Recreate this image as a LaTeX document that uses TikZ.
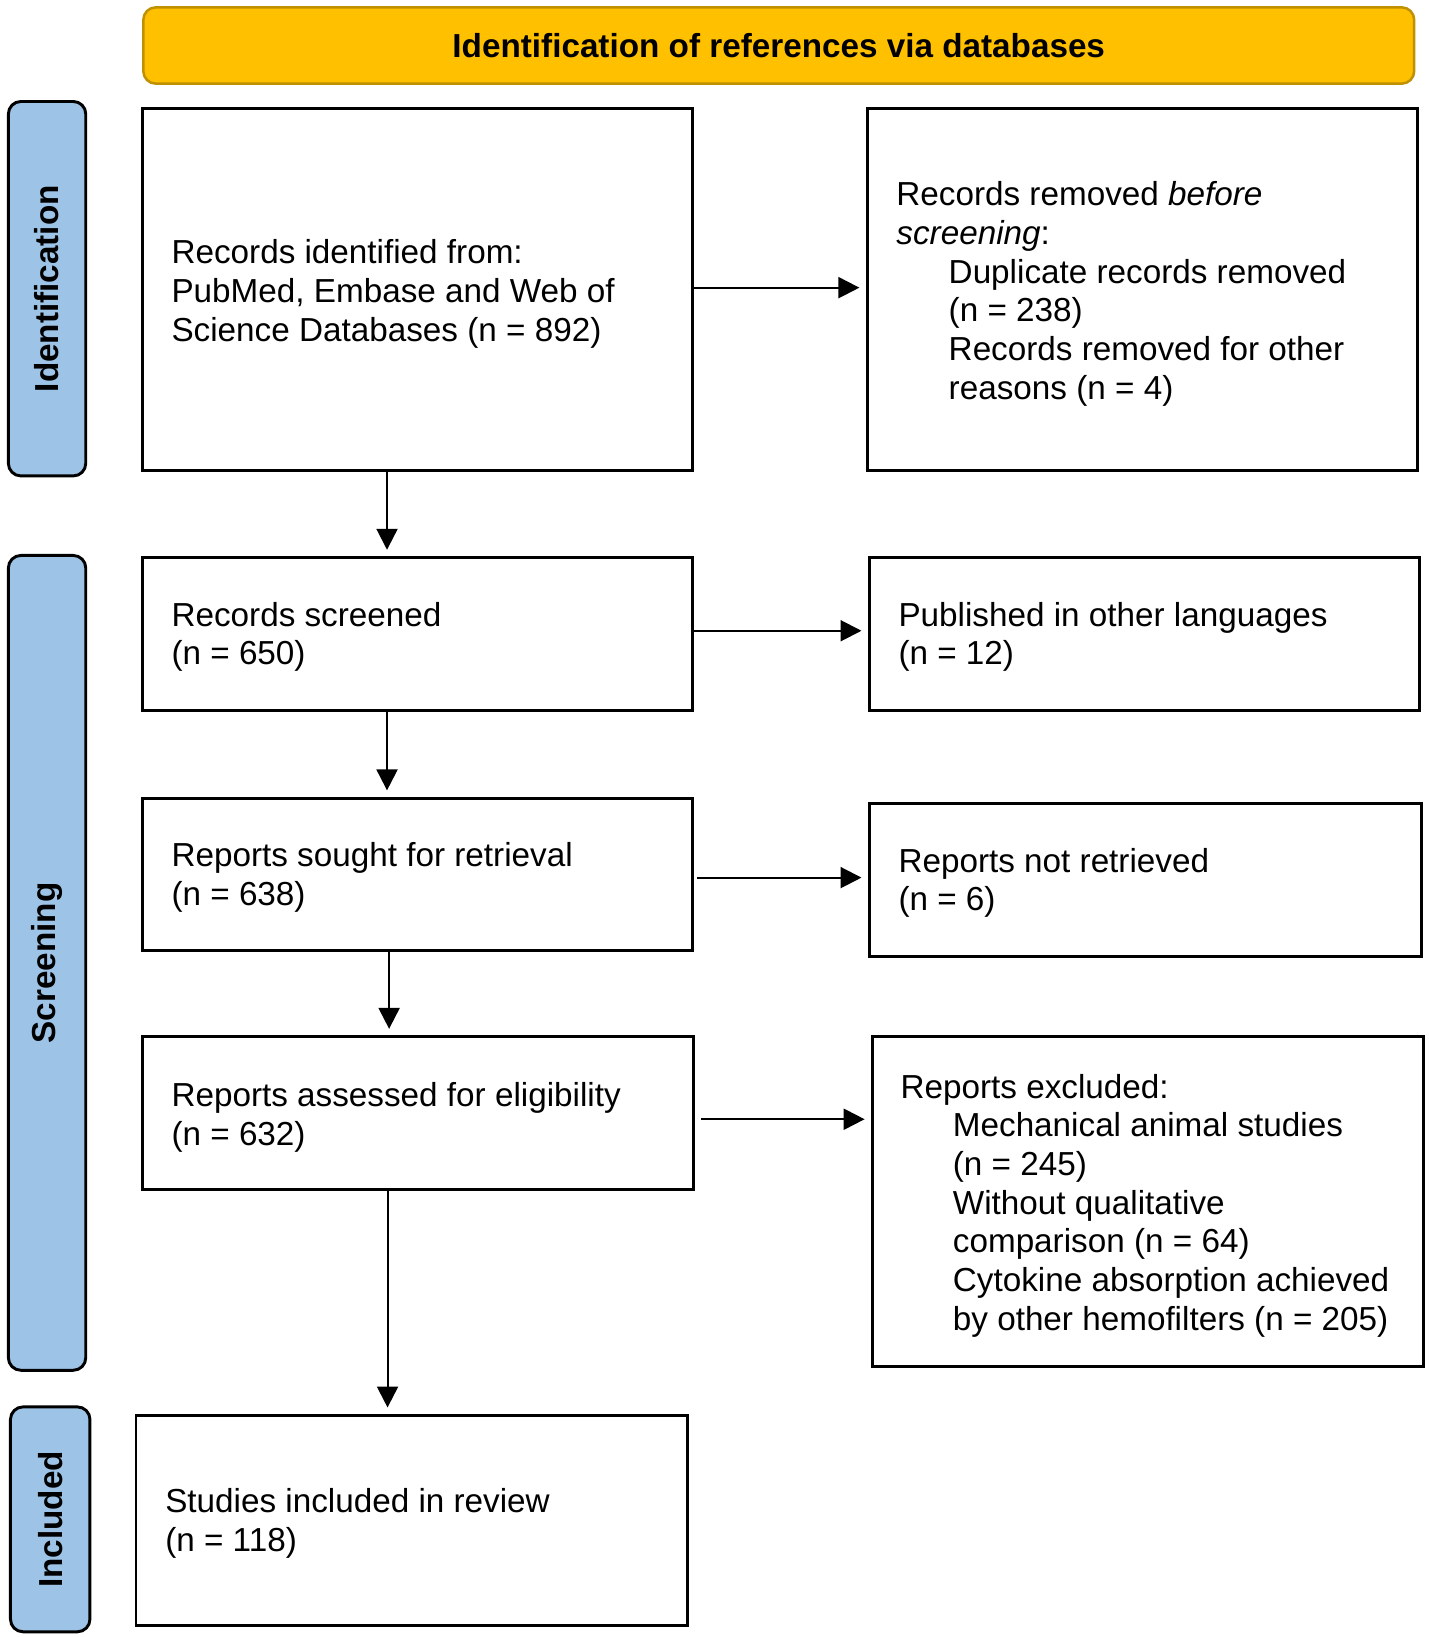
\documentclass[tikz,border=0pt]{standalone}
\usepackage{fontspec}
\setmainfont{Liberation Sans}
\usetikzlibrary{arrows.meta,calc}
\definecolor{hdrfill}{HTML}{FFC000}
\definecolor{hdrline}{HTML}{BF9000}
\definecolor{sidefill}{HTML}{9DC3E6}
\begin{document}
\begin{tikzpicture}[x=0.5pt,y=-0.5pt,
  box/.style={draw=black, line width=1.4pt, fill=white, inner sep=0pt},
  txt/.style={anchor=west, align=left, inner sep=0pt, font=\fontsize{15.9}{18.5}\selectfont},
  side/.style={draw=black, line width=1.4pt, fill=sidefill, rounded corners=6pt, inner sep=0pt},
  sidelabel/.style={rotate=90, inner sep=0pt, font=\fontsize{15.9}{18.5}\selectfont\bfseries},
  arr/.style={-{Triangle[length=10pt,width=10pt]}, line width=1pt, shorten >=3pt}]
\useasboundingbox (0,0) rectangle (1366,1565);

% header
\node[draw=hdrline, line width=1.2pt, fill=hdrfill, rounded corners=6pt, inner sep=0pt,
      minimum width=607.5pt, minimum height=36.5pt,
      font=\fontsize{15.9}{18.5}\selectfont\bfseries] (hdr) at (744.5,43.5)
      {Identification of references via databases};

% side bars
\node[side, minimum width=37pt, minimum height=179pt] (sid) at (45,276) {};
\node[sidelabel] (sidt) at (sid.center) {Identification};
\node[side, minimum width=37pt, minimum height=389.5pt] (sscr) at (45,920.5) {};
\node[sidelabel] (sscrt) at (sscr.center) {Screening};
\node[side, minimum width=38pt, minimum height=107.5pt] (sinc) at (48,1452.5) {};
\node[sidelabel] (sinct) at (sinc.center) {Included};

% boxes
\node[box, minimum width=263pt, minimum height=173pt] (a) at (399,277) {};
\node[box, minimum width=263pt, minimum height=173pt] (b) at (1092,277) {};
\node[box, minimum width=263pt, minimum height=73pt] (c) at (399,606) {};
\node[box, minimum width=263pt, minimum height=73pt] (d) at (1094,606) {};
\node[box, minimum width=263pt, minimum height=73pt] (e) at (399,836) {};
\node[box, minimum width=264pt, minimum height=73pt] (f) at (1095,841) {};
\node[box, minimum width=263.5pt, minimum height=73pt] (g) at (399.5,1064) {};
\node[box, minimum width=263.5pt, minimum height=157.5pt] (h) at (1097.5,1148.5) {};
\node[box, minimum width=263.5pt, minimum height=100.5pt] (i) at (393.5,1453.5) {};

% texts
\node[txt] (at) at ([xshift=14.5pt,yshift=-2pt]a.west) {Records identified from:\\PubMed, Embase and Web of\\Science Databases (n = 892)};
\node[txt] (bt) at ([xshift=14.5pt,yshift=-2pt]b.west) {Records removed \textit{before}\\\textit{screening}:\\\hspace*{25pt}Duplicate records removed\\\hspace*{25pt}(n = 238)\\\hspace*{25pt}Records removed for other\\\hspace*{25pt}reasons (n = 4)};
\node[txt] (ct) at ([xshift=14.5pt,yshift=-1.5pt]c.west) {Records screened\\(n = 650)};
\node[txt] (dt) at ([xshift=14.5pt,yshift=-1.5pt]d.west) {Published in other languages\\(n = 12)};
\node[txt] (et) at ([xshift=14.5pt,yshift=-1.5pt]e.west) {Reports sought for retrieval\\(n = 638)};
\node[txt] (ft) at ([xshift=14.5pt,yshift=-1.5pt]f.west) {Reports not retrieved\\(n = 6)};
\node[txt] (gt) at ([xshift=14.5pt,yshift=-2pt]g.west) {Reports assessed for eligibility\\(n = 632)};
\node[txt] (ht) at ([xshift=14pt,yshift=-2pt]h.west) {Reports excluded:\\\hspace*{25pt}Mechanical animal studies\\\hspace*{25pt}(n = 245)\\\hspace*{25pt}Without qualitative\\\hspace*{25pt}comparison (n = 64)\\\hspace*{25pt}Cytokine absorption achieved\\\hspace*{25pt}by other hemofilters (n = 205)};
\node[txt] (it) at ([xshift=14.5pt,yshift=-1.5pt]i.west) {Studies included in review\\(n = 118)};

% connectors
\draw[arr] ([yshift=1pt]a.east) -- ([yshift=1pt]a.east -| b.west);
\draw[arr] ([yshift=1.5pt]c.east) -- ([yshift=1.5pt]c.east -| d.west);
\draw[arr] ([xshift=1.5pt,yshift=-1.5pt]e.east) -- ([yshift=-1.5pt]e.east -| f.west);
\draw[arr] ([xshift=3pt,yshift=-3pt]g.east) -- ([yshift=-3pt]g.east -| h.west);
\draw[arr] ([xshift=-14.5pt]a.south) -- ([xshift=-14.5pt]a.south |- c.north);
\draw[arr] ([xshift=-14.5pt]c.south) -- ([xshift=-14.5pt]c.south |- e.north);
\draw[arr] ([xshift=-13.5pt]e.south) -- ([xshift=-13.5pt]e.south |- g.north);
\draw[arr] ([xshift=-14.5pt]g.south) -- ([xshift=-14.5pt]g.south |- i.north);
\end{tikzpicture}
\end{document}
